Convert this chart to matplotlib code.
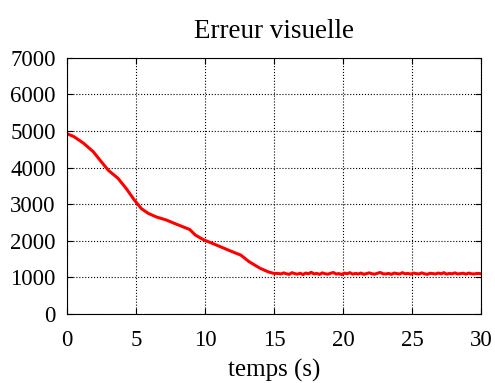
import numpy as np
import matplotlib.pyplot as plt

# temps (s) et erreur visuelle
t_descente = [0, 0.5, 1.2, 1.9, 2.5, 3.0, 3.7, 4.3, 4.9, 5.4, 5.9, 6.5, 7.2, 7.9,
              8.9, 9.3, 9.9, 10.8, 12.0, 12.6, 13.2, 14.0, 14.6, 15.0]
e_descente = [4930, 4850, 4670, 4440, 4160, 3930, 3710, 3430, 3110, 2880, 2750,
              2650, 2570, 2460, 2310, 2160, 2030, 1890, 1700, 1610, 1430, 1250,
              1150, 1110]
t_plateau = [15.3, 15.5, 15.7, 15.9, 16.1, 16.3, 16.5, 16.7, 16.9, 17.1, 17.3,
             17.5, 17.7, 17.9, 18.1, 18.3, 18.5, 18.7, 18.9, 19.1, 19.3, 19.5,
             19.7, 19.9, 20.1, 20.3, 20.5, 20.7, 20.9, 21.1, 21.3, 21.5, 21.7,
             21.9, 22.1, 22.3, 22.5, 22.7, 22.9, 23.1, 23.3, 23.5, 23.7, 23.9,
             24.1, 24.3, 24.5, 24.7, 24.9, 25.1, 25.3, 25.5, 25.7, 25.9, 26.1,
             26.3, 26.5, 26.7, 26.9, 27.1, 27.3, 27.5, 27.7, 27.9, 28.1, 28.3,
             28.5, 28.7, 28.9, 29.1, 29.3, 29.5, 29.7, 29.9, 30.0]
e_plateau = [1110, 1095, 1125, 1100, 1085, 1130, 1105, 1090, 1115, 1080, 1120,
             1100, 1140, 1095, 1110, 1085, 1125, 1100, 1090, 1115, 1135, 1095,
             1105, 1080, 1120, 1100, 1130, 1090, 1110, 1095, 1120, 1085, 1105,
             1125, 1100, 1090, 1115, 1135, 1100, 1095, 1110, 1085, 1120, 1105,
             1095, 1130, 1100, 1110, 1090, 1120, 1105, 1095, 1125, 1100, 1085,
             1115, 1105, 1095, 1120, 1100, 1130, 1090, 1110, 1100, 1125, 1095,
             1105, 1115, 1090, 1120, 1100, 1095, 1110, 1105, 1100]

t = t_descente + t_plateau
e = e_descente + e_plateau

plt.rcParams['font.family'] = ['Liberation Serif', 'DejaVu Serif']

fig = plt.figure(figsize=(4.95, 3.83), dpi=100)
ax = fig.add_axes([0.135, 0.180, 0.837, 0.669])
ax.plot(t, e, color='red', linewidth=2.2)

ax.set_xlim(0, 30)
ax.set_ylim(0, 7000)
ax.set_xticks(np.arange(0, 31, 5))
ax.set_yticks(np.arange(0, 7001, 1000))
ax.grid(True, color='black', linestyle=':', linewidth=0.8)
ax.tick_params(direction='in', top=True, right=True, labelsize=16.5, length=4)
ax.tick_params(axis='y', pad=8)
ax.tick_params(axis='x', pad=11.5)
ax.set_title('Erreur visuelle', fontsize=19.5, pad=14.5)
ax.set_xlabel('temps (s)', fontsize=18, labelpad=6)

fig.savefig('out.png', dpi=100)
